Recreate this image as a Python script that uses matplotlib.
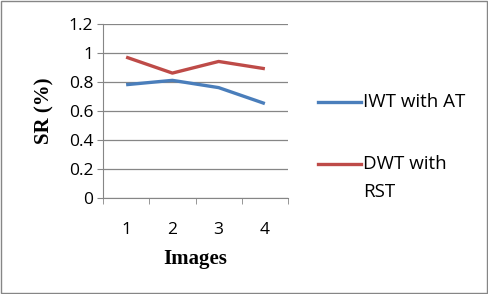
import matplotlib.pyplot as plt
from matplotlib.lines import Line2D
from matplotlib.patches import Rectangle

# data
images = [1, 2, 3, 4]
iwt_at = [0.78, 0.81, 0.76, 0.65]
dwt_rst = [0.97, 0.86, 0.94, 0.89]
yticks = [0, 0.2, 0.4, 0.6, 0.8, 1, 1.2]
ytick_labels = ['0', '0.2', '0.4', '0.6', '0.8', '1', '1.2']

blue = '#4a7ebb'
red = '#be4b48'
tick_font = 'Open Sans'
title_font = 'Liberation Serif'

fig = plt.figure(figsize=(4.89, 2.94), dpi=100)
ax = fig.add_axes([103 / 489, 1 - 198 / 294, 185 / 489, (198 - 23.7) / 294])

x = list(range(len(images)))
ax.plot(x, iwt_at, color=blue, lw=2.4, solid_capstyle='butt')
ax.plot(x, dwt_rst, color=red, lw=2.4, solid_capstyle='butt')

ax.set_xlim(-0.5, len(images) - 0.5)
ax.set_ylim(0, 1.2)
ax.set_yticks(yticks)
ax.set_yticklabels(ytick_labels, fontfamily=tick_font, fontsize=12.5)
ax.set_xticks(x)
ax.set_xticklabels([str(i) for i in images], fontfamily=tick_font, fontsize=12.5)
ax.set_xticks([i - 0.5 for i in range(len(images) + 1)], minor=True)
ax.tick_params(axis='x', which='major', length=0, pad=17)
ax.tick_params(axis='x', which='minor', length=4, color='#868686', direction='out')
ax.tick_params(axis='y', length=4, color='#868686', direction='out', pad=3)

ax.grid(axis='y', color='#868686', lw=0.9)
ax.set_axisbelow(True)
for s in ['top', 'right']:
    ax.spines[s].set_visible(False)
ax.spines['left'].set_color('#868686')
ax.spines['bottom'].set_color('#868686')

ax.set_xlabel('Images', fontfamily=title_font, fontweight='bold', fontsize=15, labelpad=8)
ax.set_ylabel('SR (%)', fontfamily=title_font, fontweight='bold', fontsize=15, labelpad=10)

# legend drawn by hand like the Excel one
fig.add_artist(Line2D([318 / 489, 361 / 489], [1 - 102 / 294] * 2, color=blue, lw=2.4))
fig.add_artist(Line2D([318 / 489, 361 / 489], [1 - 164 / 294] * 2, color=red, lw=2.4))
fig.text(363 / 489, 1 - 102 / 294, 'IWT with AT', fontfamily=tick_font, fontsize=13.5, va='center')
fig.text(363 / 489, 1 - 164 / 294, 'DWT with', fontfamily=tick_font, fontsize=13.5, va='center')
fig.text(363 / 489, 1 - 192 / 294, 'RST', fontfamily=tick_font, fontsize=13.5, va='center')

# outer border
fig.add_artist(Rectangle((0.002, 0.003), 0.994, 0.993, transform=fig.transFigure,
                         fill=False, edgecolor='#868686', lw=1))

fig.savefig('out.png', dpi=100)
